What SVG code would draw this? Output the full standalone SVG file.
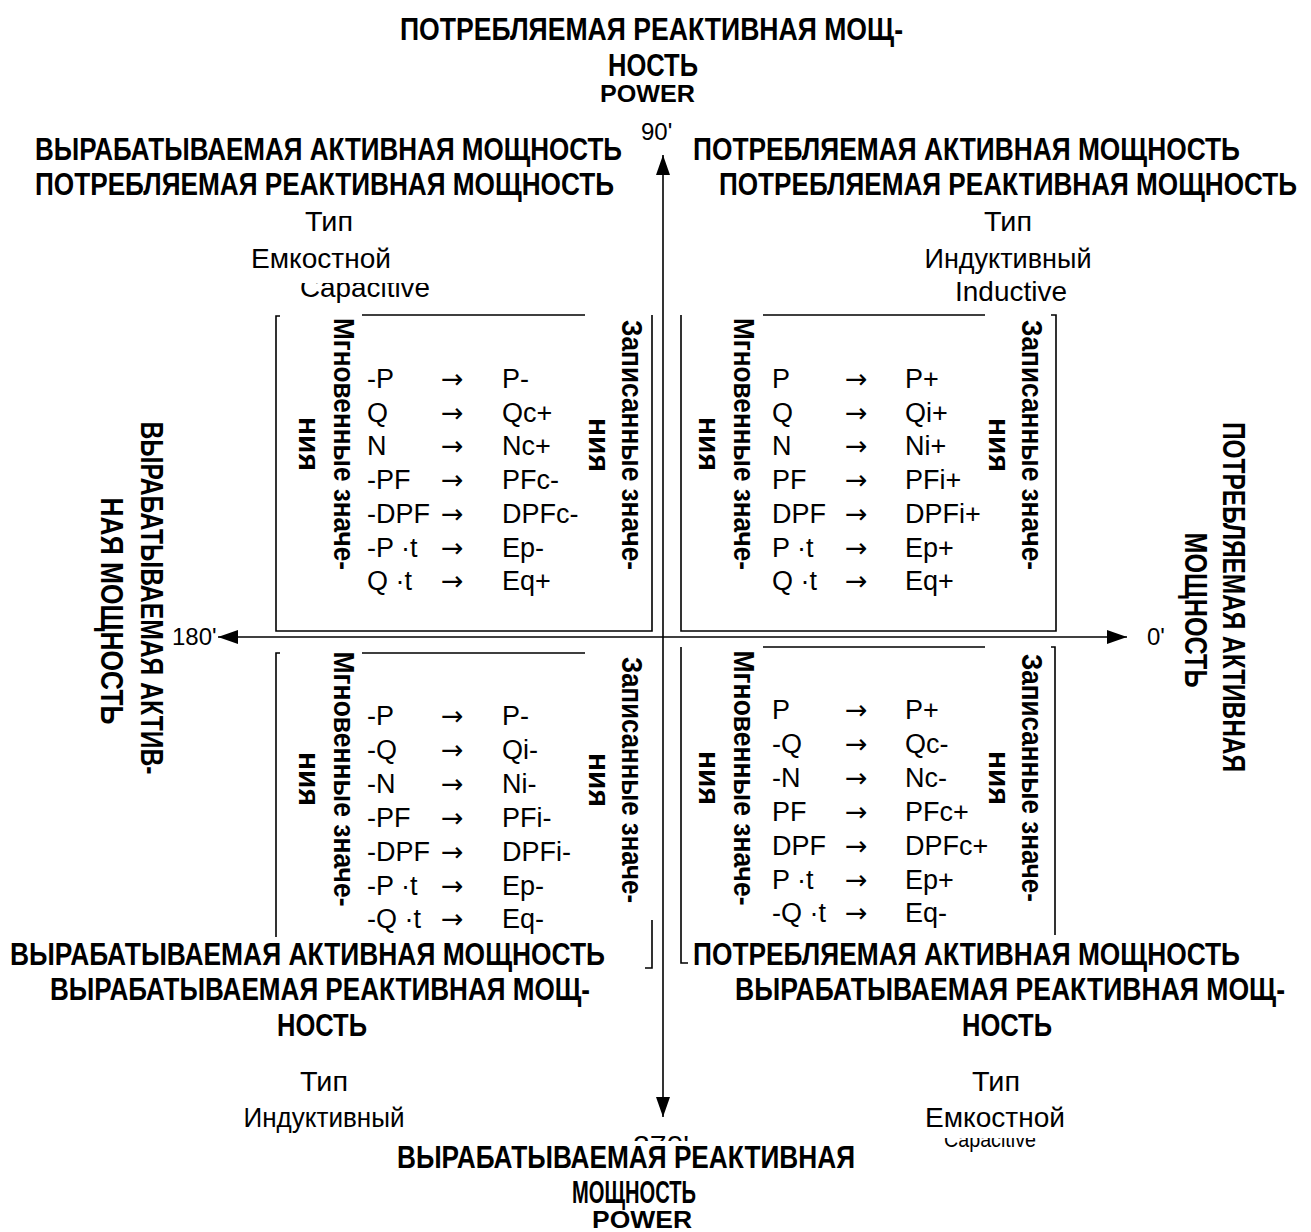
<svg xmlns="http://www.w3.org/2000/svg" width="1311" height="1232" viewBox="0 0 1311 1232">
<style>
.h{font-family:"Liberation Sans",Arial,sans-serif;font-weight:bold;font-size:31px;fill:#000}
.p{font-family:"Liberation Sans",Arial,sans-serif;font-size:28px;fill:#000}
.d{font-family:"Liberation Sans",Arial,sans-serif;font-size:24px;fill:#000}
.pw{font-family:"Liberation Sans",Arial,sans-serif;font-weight:bold;font-size:24px;fill:#000}
.t{font-family:"Liberation Sans",Arial,sans-serif;font-size:27px;fill:#000}
.a{font-family:"DejaVu Sans",sans-serif;font-size:27px;fill:#000}
.r{font-family:"Liberation Sans",Arial,sans-serif;font-weight:bold;font-size:30px;fill:#000}
.ln{stroke:#000;stroke-width:1.6;fill:none}
.ax{stroke:#000;stroke-width:1.6;fill:none}
</style>
<defs>
<marker id="ah" viewBox="0 0 20 14" refX="20" refY="7" markerWidth="20" markerHeight="14" markerUnits="userSpaceOnUse" orient="auto">
<path d="M0,0 L20,7 L0,14 Z" fill="#000"/>
</marker>
</defs>
<rect width="1311" height="1232" fill="#fff"/>

<g id="connectors">
<line class="ax" x1="663" y1="637" x2="663" y2="155" marker-end="url(#ah)"/>
<line class="ax" x1="663" y1="637" x2="663" y2="1117" marker-end="url(#ah)"/>
<line class="ax" x1="663" y1="637" x2="218" y2="637" marker-end="url(#ah)"/>
<line class="ax" x1="663" y1="637" x2="1127" y2="637" marker-end="url(#ah)"/>
</g>

<g id="axis-labels">
<text class="d" x="641" y="140">90'</text>
<text class="d" x="172" y="645">180'</text>
<text class="d" x="1147" y="645">0'</text>
<text class="p" x="661" y="1155" text-anchor="middle" textLength="56" lengthAdjust="spacingAndGlyphs">270'</text>
<rect x="380" y="1141" width="500" height="15" fill="#fff"/>
</g>

<g id="top-label">
<text class="h" x="400" y="40" textLength="503" lengthAdjust="spacingAndGlyphs">ПОТРЕБЛЯЕМАЯ РЕАКТИВНАЯ МОЩ-</text>
<text class="h" x="608" y="76" textLength="90" lengthAdjust="spacingAndGlyphs">НОСТЬ</text>
<text class="pw" x="600" y="102" textLength="95" lengthAdjust="spacingAndGlyphs">POWER</text>
</g>

<g id="bottom-label">
<text class="h" x="397" y="1168" textLength="458" lengthAdjust="spacingAndGlyphs">ВЫРАБАТЫВАЕМАЯ РЕАКТИВНАЯ</text>
<text class="h" x="572" y="1203" textLength="124" lengthAdjust="spacingAndGlyphs">МОЩНОСТЬ</text>
<text class="pw" x="592" y="1228" textLength="100" lengthAdjust="spacingAndGlyphs">POWER</text>
</g>

<g id="left-label">
<text class="h" transform="translate(141,598) rotate(90)" text-anchor="middle" textLength="353" lengthAdjust="spacingAndGlyphs">ВЫРАБАТЫВАЕМАЯ АКТИВ-</text>
<text class="h" transform="translate(101,611) rotate(90)" text-anchor="middle" textLength="227" lengthAdjust="spacingAndGlyphs">НАЯ МОЩНОСТЬ</text>
</g>

<g id="right-label">
<text class="h" transform="translate(1223,597) rotate(90)" text-anchor="middle" textLength="350" lengthAdjust="spacingAndGlyphs">ПОТРЕБЛЯЕМАЯ АКТИВНАЯ</text>
<text class="h" transform="translate(1185,610) rotate(90)" text-anchor="middle" textLength="155" lengthAdjust="spacingAndGlyphs">МОЩНОСТЬ</text>
</g>

<!-- Quadrant II (upper-left) -->
<g id="q2-header">
<text class="h" x="35" y="160" textLength="587" lengthAdjust="spacingAndGlyphs">ВЫРАБАТЫВАЕМАЯ АКТИВНАЯ МОЩНОСТЬ</text>
<text class="h" x="35" y="195" textLength="579" lengthAdjust="spacingAndGlyphs">ПОТРЕБЛЯЕМАЯ РЕАКТИВНАЯ МОЩНОСТЬ</text>
<text class="p" x="329" y="231" text-anchor="middle" textLength="48" lengthAdjust="spacingAndGlyphs">Тип</text>
<text class="p" x="365" y="297" text-anchor="middle" textLength="130" lengthAdjust="spacingAndGlyphs">Capacitive</text>
<rect x="280" y="271" width="170" height="12" fill="#fff"/>
<text class="p" x="321" y="268" text-anchor="middle" textLength="140" lengthAdjust="spacingAndGlyphs">Емкостной</text>
</g>
<g id="q2-box">
<path class="ln" d="M280,316 H276 V631 H652 V315 M362,315 H585"/>
<text class="r" transform="translate(334,444) rotate(90)" text-anchor="middle"><tspan x="0" y="0" textLength="252" lengthAdjust="spacingAndGlyphs">Мгновенные значе-</tspan><tspan x="0" y="35">ния</tspan></text>
<text class="r" transform="translate(622,445) rotate(90)" text-anchor="middle"><tspan x="0" y="0" textLength="250" lengthAdjust="spacingAndGlyphs">Записанные значе-</tspan><tspan x="0" y="33">ния</tspan></text>
<text class="t" x="367" y="388">-P</text><text class="a" x="441" y="388">→</text><text class="t" x="502" y="388">P-</text>
<text class="t" x="367" y="422">Q</text><text class="a" x="441" y="422">→</text><text class="t" x="502" y="422">Qc+</text>
<text class="t" x="367" y="455">N</text><text class="a" x="441" y="455">→</text><text class="t" x="502" y="455">Nc+</text>
<text class="t" x="367" y="489">-PF</text><text class="a" x="441" y="489">→</text><text class="t" x="502" y="489">PFc-</text>
<text class="t" x="367" y="523">-DPF</text><text class="a" x="441" y="523">→</text><text class="t" x="502" y="523">DPFc-</text>
<text class="t" x="367" y="557">-P ·t</text><text class="a" x="441" y="557">→</text><text class="t" x="502" y="557">Ep-</text>
<text class="t" x="367" y="590">Q ·t</text><text class="a" x="441" y="590">→</text><text class="t" x="502" y="590">Eq+</text>
</g>

<!-- Quadrant I (upper-right) -->
<g id="q1-header">
<text class="h" x="693" y="160" textLength="547" lengthAdjust="spacingAndGlyphs">ПОТРЕБЛЯЕМАЯ АКТИВНАЯ МОЩНОСТЬ</text>
<text class="h" x="719" y="195" textLength="578" lengthAdjust="spacingAndGlyphs">ПОТРЕБЛЯЕМАЯ РЕАКТИВНАЯ МОЩНОСТЬ</text>
<text class="p" x="1008" y="231" text-anchor="middle" textLength="48" lengthAdjust="spacingAndGlyphs">Тип</text>
<text class="p" x="1008" y="268" text-anchor="middle" textLength="167" lengthAdjust="spacingAndGlyphs">Индуктивный</text>
<text class="p" x="1011" y="301" text-anchor="middle" textLength="112" lengthAdjust="spacingAndGlyphs">Inductive</text>
</g>
<g id="q1-box">
<path class="ln" d="M681,315 V631 H1056 V315 H1051 M763,315 H985"/>
<text class="r" transform="translate(734,444) rotate(90)" text-anchor="middle"><tspan x="0" y="0" textLength="252" lengthAdjust="spacingAndGlyphs">Мгновенные значе-</tspan><tspan x="0" y="35">ния</tspan></text>
<text class="r" transform="translate(1022,445) rotate(90)" text-anchor="middle"><tspan x="0" y="0" textLength="250" lengthAdjust="spacingAndGlyphs">Записанные значе-</tspan><tspan x="0" y="33">ния</tspan></text>
<text class="t" x="772" y="388">P</text><text class="a" x="845" y="388">→</text><text class="t" x="905" y="388">P+</text>
<text class="t" x="772" y="422">Q</text><text class="a" x="845" y="422">→</text><text class="t" x="905" y="422">Qi+</text>
<text class="t" x="772" y="455">N</text><text class="a" x="845" y="455">→</text><text class="t" x="905" y="455">Ni+</text>
<text class="t" x="772" y="489">PF</text><text class="a" x="845" y="489">→</text><text class="t" x="905" y="489">PFi+</text>
<text class="t" x="772" y="523">DPF</text><text class="a" x="845" y="523">→</text><text class="t" x="905" y="523">DPFi+</text>
<text class="t" x="772" y="557">P ·t</text><text class="a" x="845" y="557">→</text><text class="t" x="905" y="557">Ep+</text>
<text class="t" x="772" y="590">Q ·t</text><text class="a" x="845" y="590">→</text><text class="t" x="905" y="590">Eq+</text>
</g>

<!-- Quadrant III (lower-left) -->
<g id="q3-box">
<path class="ln" d="M280,653 H276 V937 M362,653 H585 M652,920 V968 H645"/>
<text class="r" transform="translate(334,779) rotate(90)" text-anchor="middle"><tspan x="0" y="0" textLength="255" lengthAdjust="spacingAndGlyphs">Мгновенные значе-</tspan><tspan x="0" y="35">ния</tspan></text>
<text class="r" transform="translate(622,780) rotate(90)" text-anchor="middle"><tspan x="0" y="0" textLength="246" lengthAdjust="spacingAndGlyphs">Записанные значе-</tspan><tspan x="0" y="33">ния</tspan></text>
<text class="t" x="367" y="725">-P</text><text class="a" x="441" y="725">→</text><text class="t" x="502" y="725">P-</text>
<text class="t" x="367" y="759">-Q</text><text class="a" x="441" y="759">→</text><text class="t" x="502" y="759">Qi-</text>
<text class="t" x="367" y="793">-N</text><text class="a" x="441" y="793">→</text><text class="t" x="502" y="793">Ni-</text>
<text class="t" x="367" y="827">-PF</text><text class="a" x="441" y="827">→</text><text class="t" x="502" y="827">PFi-</text>
<text class="t" x="367" y="861">-DPF</text><text class="a" x="441" y="861">→</text><text class="t" x="502" y="861">DPFi-</text>
<text class="t" x="367" y="895">-P ·t</text><text class="a" x="441" y="895">→</text><text class="t" x="502" y="895">Ep-</text>
<text class="t" x="367" y="928">-Q ·t</text><text class="a" x="441" y="928">→</text><text class="t" x="502" y="928">Eq-</text>
</g>
<g id="q3-header">
<text class="h" x="10" y="965" textLength="595" lengthAdjust="spacingAndGlyphs">ВЫРАБАТЫВАЕМАЯ АКТИВНАЯ МОЩНОСТЬ</text>
<text class="h" x="50" y="1000" textLength="540" lengthAdjust="spacingAndGlyphs">ВЫРАБАТЫВАЕМАЯ РЕАКТИВНАЯ МОЩ-</text>
<text class="h" x="277" y="1036" textLength="90" lengthAdjust="spacingAndGlyphs">НОСТЬ</text>
<text class="p" x="324" y="1091" text-anchor="middle" textLength="48" lengthAdjust="spacingAndGlyphs">Тип</text>
<text class="p" x="324" y="1127" text-anchor="middle" textLength="161" lengthAdjust="spacingAndGlyphs">Индуктивный</text>
</g>

<!-- Quadrant IV (lower-right) -->
<g id="q4-box">
<path class="ln" d="M688,963 H681 V647 M763,647 H985 M1051,647 H1055 V935"/>
<text class="r" transform="translate(734,778) rotate(90)" text-anchor="middle"><tspan x="0" y="0" textLength="255" lengthAdjust="spacingAndGlyphs">Мгновенные значе-</tspan><tspan x="0" y="35">ния</tspan></text>
<text class="r" transform="translate(1022,778) rotate(90)" text-anchor="middle"><tspan x="0" y="0" textLength="248" lengthAdjust="spacingAndGlyphs">Записанные значе-</tspan><tspan x="0" y="33">ния</tspan></text>
<text class="t" x="772" y="719">P</text><text class="a" x="845" y="719">→</text><text class="t" x="905" y="719">P+</text>
<text class="t" x="772" y="753">-Q</text><text class="a" x="845" y="753">→</text><text class="t" x="905" y="753">Qc-</text>
<text class="t" x="772" y="787">-N</text><text class="a" x="845" y="787">→</text><text class="t" x="905" y="787">Nc-</text>
<text class="t" x="772" y="821">PF</text><text class="a" x="845" y="821">→</text><text class="t" x="905" y="821">PFc+</text>
<text class="t" x="772" y="855">DPF</text><text class="a" x="845" y="855">→</text><text class="t" x="905" y="855">DPFc+</text>
<text class="t" x="772" y="889">P ·t</text><text class="a" x="845" y="889">→</text><text class="t" x="905" y="889">Ep+</text>
<text class="t" x="772" y="922">-Q ·t</text><text class="a" x="845" y="922">→</text><text class="t" x="905" y="922">Eq-</text>
</g>
<g id="q4-header">
<text class="h" x="693" y="965" textLength="547" lengthAdjust="spacingAndGlyphs">ПОТРЕБЛЯЕМАЯ АКТИВНАЯ МОЩНОСТЬ</text>
<text class="h" x="735" y="1000" textLength="550" lengthAdjust="spacingAndGlyphs">ВЫРАБАТЫВАЕМАЯ РЕАКТИВНАЯ МОЩ-</text>
<text class="h" x="962" y="1036" textLength="90" lengthAdjust="spacingAndGlyphs">НОСТЬ</text>
<text class="p" x="996" y="1091" text-anchor="middle" textLength="48" lengthAdjust="spacingAndGlyphs">Тип</text>
<text class="p" x="990" y="1147" text-anchor="middle" textLength="92" lengthAdjust="spacingAndGlyphs" style="font-size:22px">Capacitive</text>
<rect x="900" y="1128" width="180" height="10" fill="#fff"/>
<text class="p" x="995" y="1127" text-anchor="middle" textLength="140" lengthAdjust="spacingAndGlyphs">Емкостной</text>
</g>
</svg>
